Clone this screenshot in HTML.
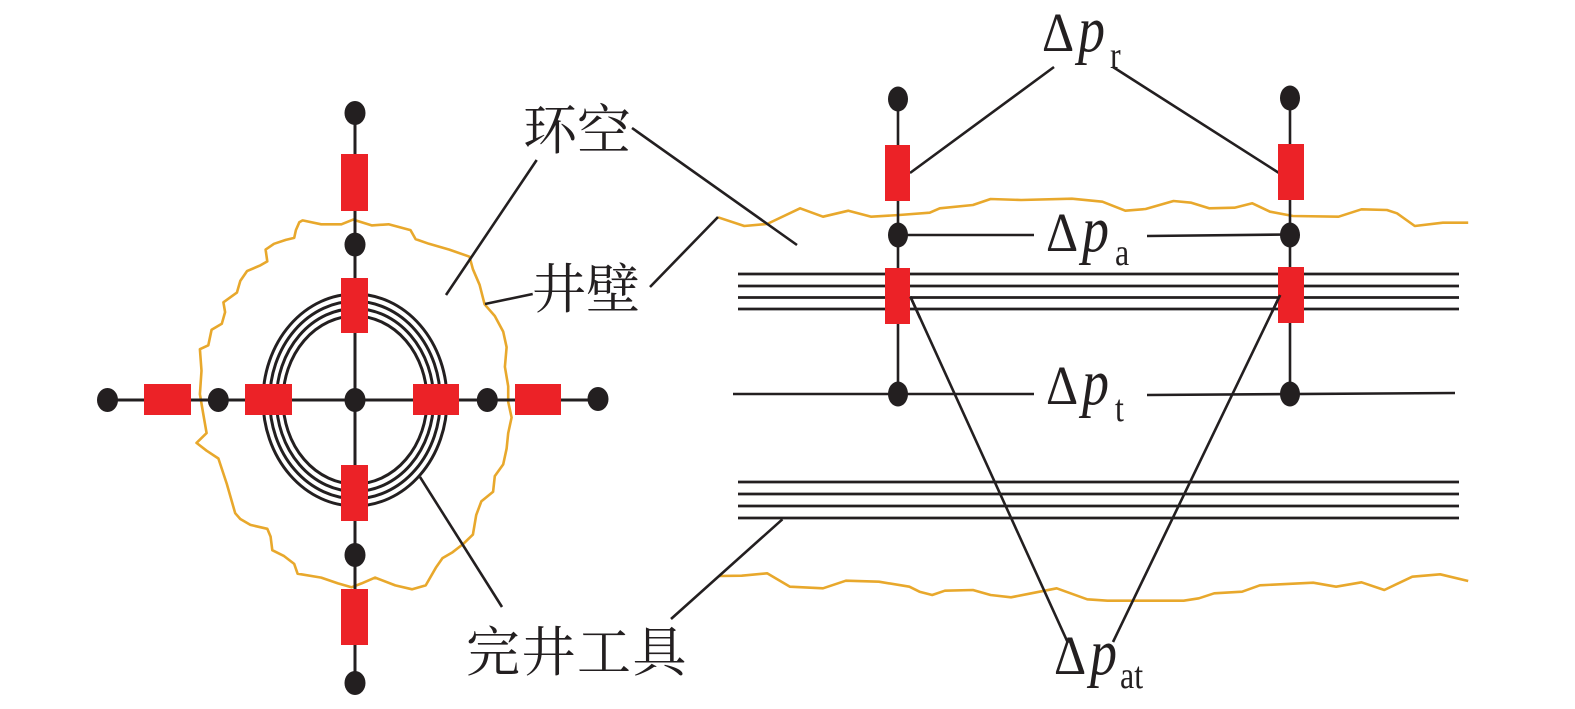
<!DOCTYPE html>
<html>
<head>
<meta charset="utf-8">
<style>
  html,body{margin:0;padding:0;background:#fff;}
  svg{display:block;}
</style>
</head>
<body>
<svg width="1575" height="709" viewBox="0 0 1575 709" xmlns="http://www.w3.org/2000/svg">
  <rect x="0" y="0" width="1575" height="709" fill="#ffffff"/>

  <!-- ================= LEFT FIGURE ================= -->
  <polygon transform="translate(2,5)" fill="none" stroke="#E8A82C" stroke-width="2.6" stroke-linejoin="round"
    points="300.6,215.4 319.2,219.3 339.4,219.3 351.2,214.6 369.7,220.4 386.6,219.3 408.5,225.1 413.6,234.1 427.0,238.8 447.3,244.6 467.5,251.7 470.9,264.2 477.6,279.8 482.6,299.3 492.8,311.0 501.2,326.6 504.6,342.2 502.9,361.8 506.2,381.3 506.2,396.9 509.6,412.5 506.2,428.1 504.6,443.7 501.2,459.4 492.8,471.1 491.1,486.7 479.3,496.4 474.2,510.1 470.9,529.6 460.7,539.4 450.6,547.2 440.5,553.1 433.8,562.8 423.7,580.4 410.2,584.3 393.3,580.4 373.1,572.6 359.6,578.4 349.5,582.3 336.0,578.4 319.2,572.6 295.6,568.7 292.2,558.9 282.1,551.1 270.3,545.2 268.6,531.6 265.3,523.8 248.4,519.9 238.3,514.0 233.2,508.2 224.8,478.9 216.4,453.5 204.6,445.7 194.5,437.9 204.6,428.1 201.2,408.6 197.9,389.1 199.5,365.7 197.9,344.2 206.3,340.3 209.6,324.7 219.8,318.8 223.1,307.1 221.4,297.3 234.9,287.6 238.3,275.9 245.0,266.1 258.5,260.3 265.3,256.4 263.6,244.6 272.0,238.8 283.8,234.9 292.2,232.9 293.9,225.1 297.3,217.3"/>

  <g fill="none" stroke="#231F20" stroke-width="3">
    <ellipse cx="355" cy="400" rx="92" ry="106"/>
    <ellipse cx="355" cy="400" rx="85.3" ry="98.7"/>
    <ellipse cx="355" cy="400" rx="78.6" ry="91.4"/>
    <ellipse cx="355" cy="400" rx="72" ry="84"/>
  </g>

  <g stroke="#231F20" stroke-width="3">
    <line x1="355" y1="113" x2="355" y2="683"/>
    <line x1="107" y1="400" x2="598" y2="400"/>
  </g>

  <g stroke="#231F20" stroke-width="2.6">
    <line x1="536.7" y1="160" x2="446" y2="295"/>
    <line x1="532.7" y1="294" x2="485" y2="304"/>
    <line x1="420" y1="477" x2="502" y2="607"/>
  </g>

  <g fill="#EC2227">
    <rect x="341" y="154" width="27" height="57"/>
    <rect x="341" y="278" width="27" height="55"/>
    <rect x="341" y="465" width="27" height="56"/>
    <rect x="341" y="589" width="27" height="56"/>
    <rect x="144" y="384" width="47" height="31"/>
    <rect x="245" y="384" width="47" height="31"/>
    <rect x="413" y="384" width="46" height="31"/>
    <rect x="515" y="384" width="46" height="31"/>
  </g>

  <g fill="#231F20">
    <ellipse cx="355" cy="113" rx="10.5" ry="12"/>
    <ellipse cx="355" cy="244.6" rx="10.5" ry="12"/>
    <ellipse cx="355" cy="400" rx="10.5" ry="12"/>
    <ellipse cx="355" cy="555" rx="10.5" ry="12"/>
    <ellipse cx="355" cy="683" rx="10.5" ry="12"/>
    <ellipse cx="107.5" cy="400" rx="10.5" ry="12"/>
    <ellipse cx="218.3" cy="400" rx="10.5" ry="12"/>
    <ellipse cx="487.3" cy="400" rx="10.5" ry="12"/>
    <ellipse cx="598" cy="399" rx="10.5" ry="12"/>
  </g>

  <g font-family="'Liberation Serif','Noto Serif CJK SC',serif" font-size="54" fill="#231F20">
    <text x="523" y="149">环空</text>
    <text x="532" y="308">井壁</text>
    <text x="466" y="671" letter-spacing="1.5">完井工具</text>
  </g>

  <!-- ================= RIGHT FIGURE ================= -->
  <polyline fill="none" stroke="#E8A82C" stroke-width="2.6" stroke-linejoin="round"
    points="718,217.3 744.3,226 767.1,224 800.1,208.3 823,216.7 848.4,210.7 871.3,216.7 899.2,215 929.7,212.7 939.8,208.3 972.9,205 990.6,199 1021.1,200 1071.9,198.7 1102.4,201.7 1125.3,210.7 1145.6,209 1173.5,201 1191.3,202.7 1209.1,208.3 1234.5,207.7 1252.3,203.3 1270,211.7 1292.9,216 1338.6,216.7 1361.5,209.3 1386.9,210 1397,213.3 1414.8,226 1442.8,222.7 1468.2,222.7"/>

  <polyline fill="none" stroke="#E8A82C" stroke-width="2.6" stroke-linejoin="round"
    points="718.9,576 741.7,575.7 767.1,573.3 790,586.7 823,588.3 845.9,580.7 878.9,581.7 909.4,586.7 919.5,591.7 932.2,595 944.9,590.7 972.9,590 990.6,595 1011,597.3 1031.3,593.3 1056.7,588.3 1087.2,599.3 1107.5,600.7 1183.7,600.7 1198.9,598.3 1214.2,593.3 1242.1,591.7 1259.9,585.3 1313.2,582.7 1336.1,586.7 1361.5,582.3 1384.3,590 1412.3,576.7 1440.2,574.3 1468.2,581"/>

  <g stroke="#231F20" stroke-width="2.8">
    <line x1="738" y1="274" x2="1459" y2="274"/>
    <line x1="738" y1="286" x2="1459" y2="286"/>
    <line x1="738" y1="297.5" x2="1459" y2="297.5"/>
    <line x1="738" y1="309" x2="1459" y2="309"/>
    <line x1="738" y1="482" x2="1459" y2="482"/>
    <line x1="738" y1="494" x2="1459" y2="494"/>
    <line x1="738" y1="506" x2="1459" y2="506"/>
    <line x1="738" y1="518" x2="1459" y2="518"/>
  </g>

  <g stroke="#231F20" stroke-width="2.6">
    <line x1="898" y1="99" x2="898" y2="394"/>
    <line x1="1290" y1="98" x2="1290" y2="394"/>
    <line x1="898" y1="235" x2="1034" y2="235"/>
    <line x1="1147" y1="236" x2="1290" y2="234.5"/>
    <line x1="733" y1="394" x2="1034" y2="394"/>
    <line x1="1147" y1="395" x2="1455" y2="393"/>
  </g>

  <g stroke="#231F20" stroke-width="2.6">
    <line x1="632" y1="128" x2="797" y2="245"/>
    <line x1="650" y1="287" x2="718" y2="217"/>
    <line x1="782.4" y1="519.3" x2="671" y2="619"/>
    <line x1="1054" y1="67" x2="910" y2="173"/>
    <line x1="1113" y1="67" x2="1279" y2="173"/>
    <line x1="910.4" y1="296.7" x2="1068" y2="643"/>
    <line x1="1280.2" y1="295" x2="1113" y2="642"/>
  </g>

  <g fill="#EC2227">
    <rect x="885" y="145" width="25" height="56"/>
    <rect x="885" y="268" width="25" height="56"/>
    <rect x="1278" y="144" width="26" height="56"/>
    <rect x="1278" y="267" width="26" height="56"/>
  </g>
  <g stroke="#231F20" stroke-width="2.6">
    <line x1="910.4" y1="296.7" x2="920" y2="318"/>
    <line x1="1280.2" y1="295" x2="1272" y2="312"/>
  </g>

  <g fill="#231F20">
    <ellipse cx="898" cy="99" rx="10" ry="12.5"/>
    <ellipse cx="1290" cy="98" rx="10" ry="12.5"/>
    <ellipse cx="898" cy="235" rx="10" ry="12.5"/>
    <ellipse cx="1290" cy="235" rx="10" ry="12.5"/>
    <ellipse cx="898" cy="394" rx="10" ry="12.5"/>
    <ellipse cx="1290" cy="394" rx="10" ry="12.5"/>
  </g>

  <g font-family="'Liberation Serif',serif" fill="#231F20">
    <!-- Δp_r -->
    <text transform="translate(1042,51) scale(1,1.1)" font-size="50">Δ</text>
    <text transform="translate(1078,51) scale(1,1.2)" font-size="54" font-style="italic">p</text>
    <text transform="translate(1110,68) scale(1,1.2)" font-size="32">r</text>
    <!-- Δp_a -->
    <text transform="translate(1046,251) scale(1,1.1)" font-size="50">Δ</text>
    <text transform="translate(1082,251) scale(1,1.2)" font-size="54" font-style="italic">p</text>
    <text transform="translate(1115,265) scale(1,1.2)" font-size="32">a</text>
    <!-- Δp_t -->
    <text transform="translate(1046,404) scale(1,1.1)" font-size="50">Δ</text>
    <text transform="translate(1082,404) scale(1,1.2)" font-size="54" font-style="italic">p</text>
    <text transform="translate(1115,421) scale(1,1.2)" font-size="32">t</text>
    <!-- Δp_at -->
    <text transform="translate(1054,674) scale(1,1.1)" font-size="50">Δ</text>
    <text transform="translate(1090,674) scale(1,1.2)" font-size="54" font-style="italic">p</text>
    <text transform="translate(1120,688) scale(1,1.2)" font-size="32">at</text>
  </g>
</svg>
</body>
</html>
